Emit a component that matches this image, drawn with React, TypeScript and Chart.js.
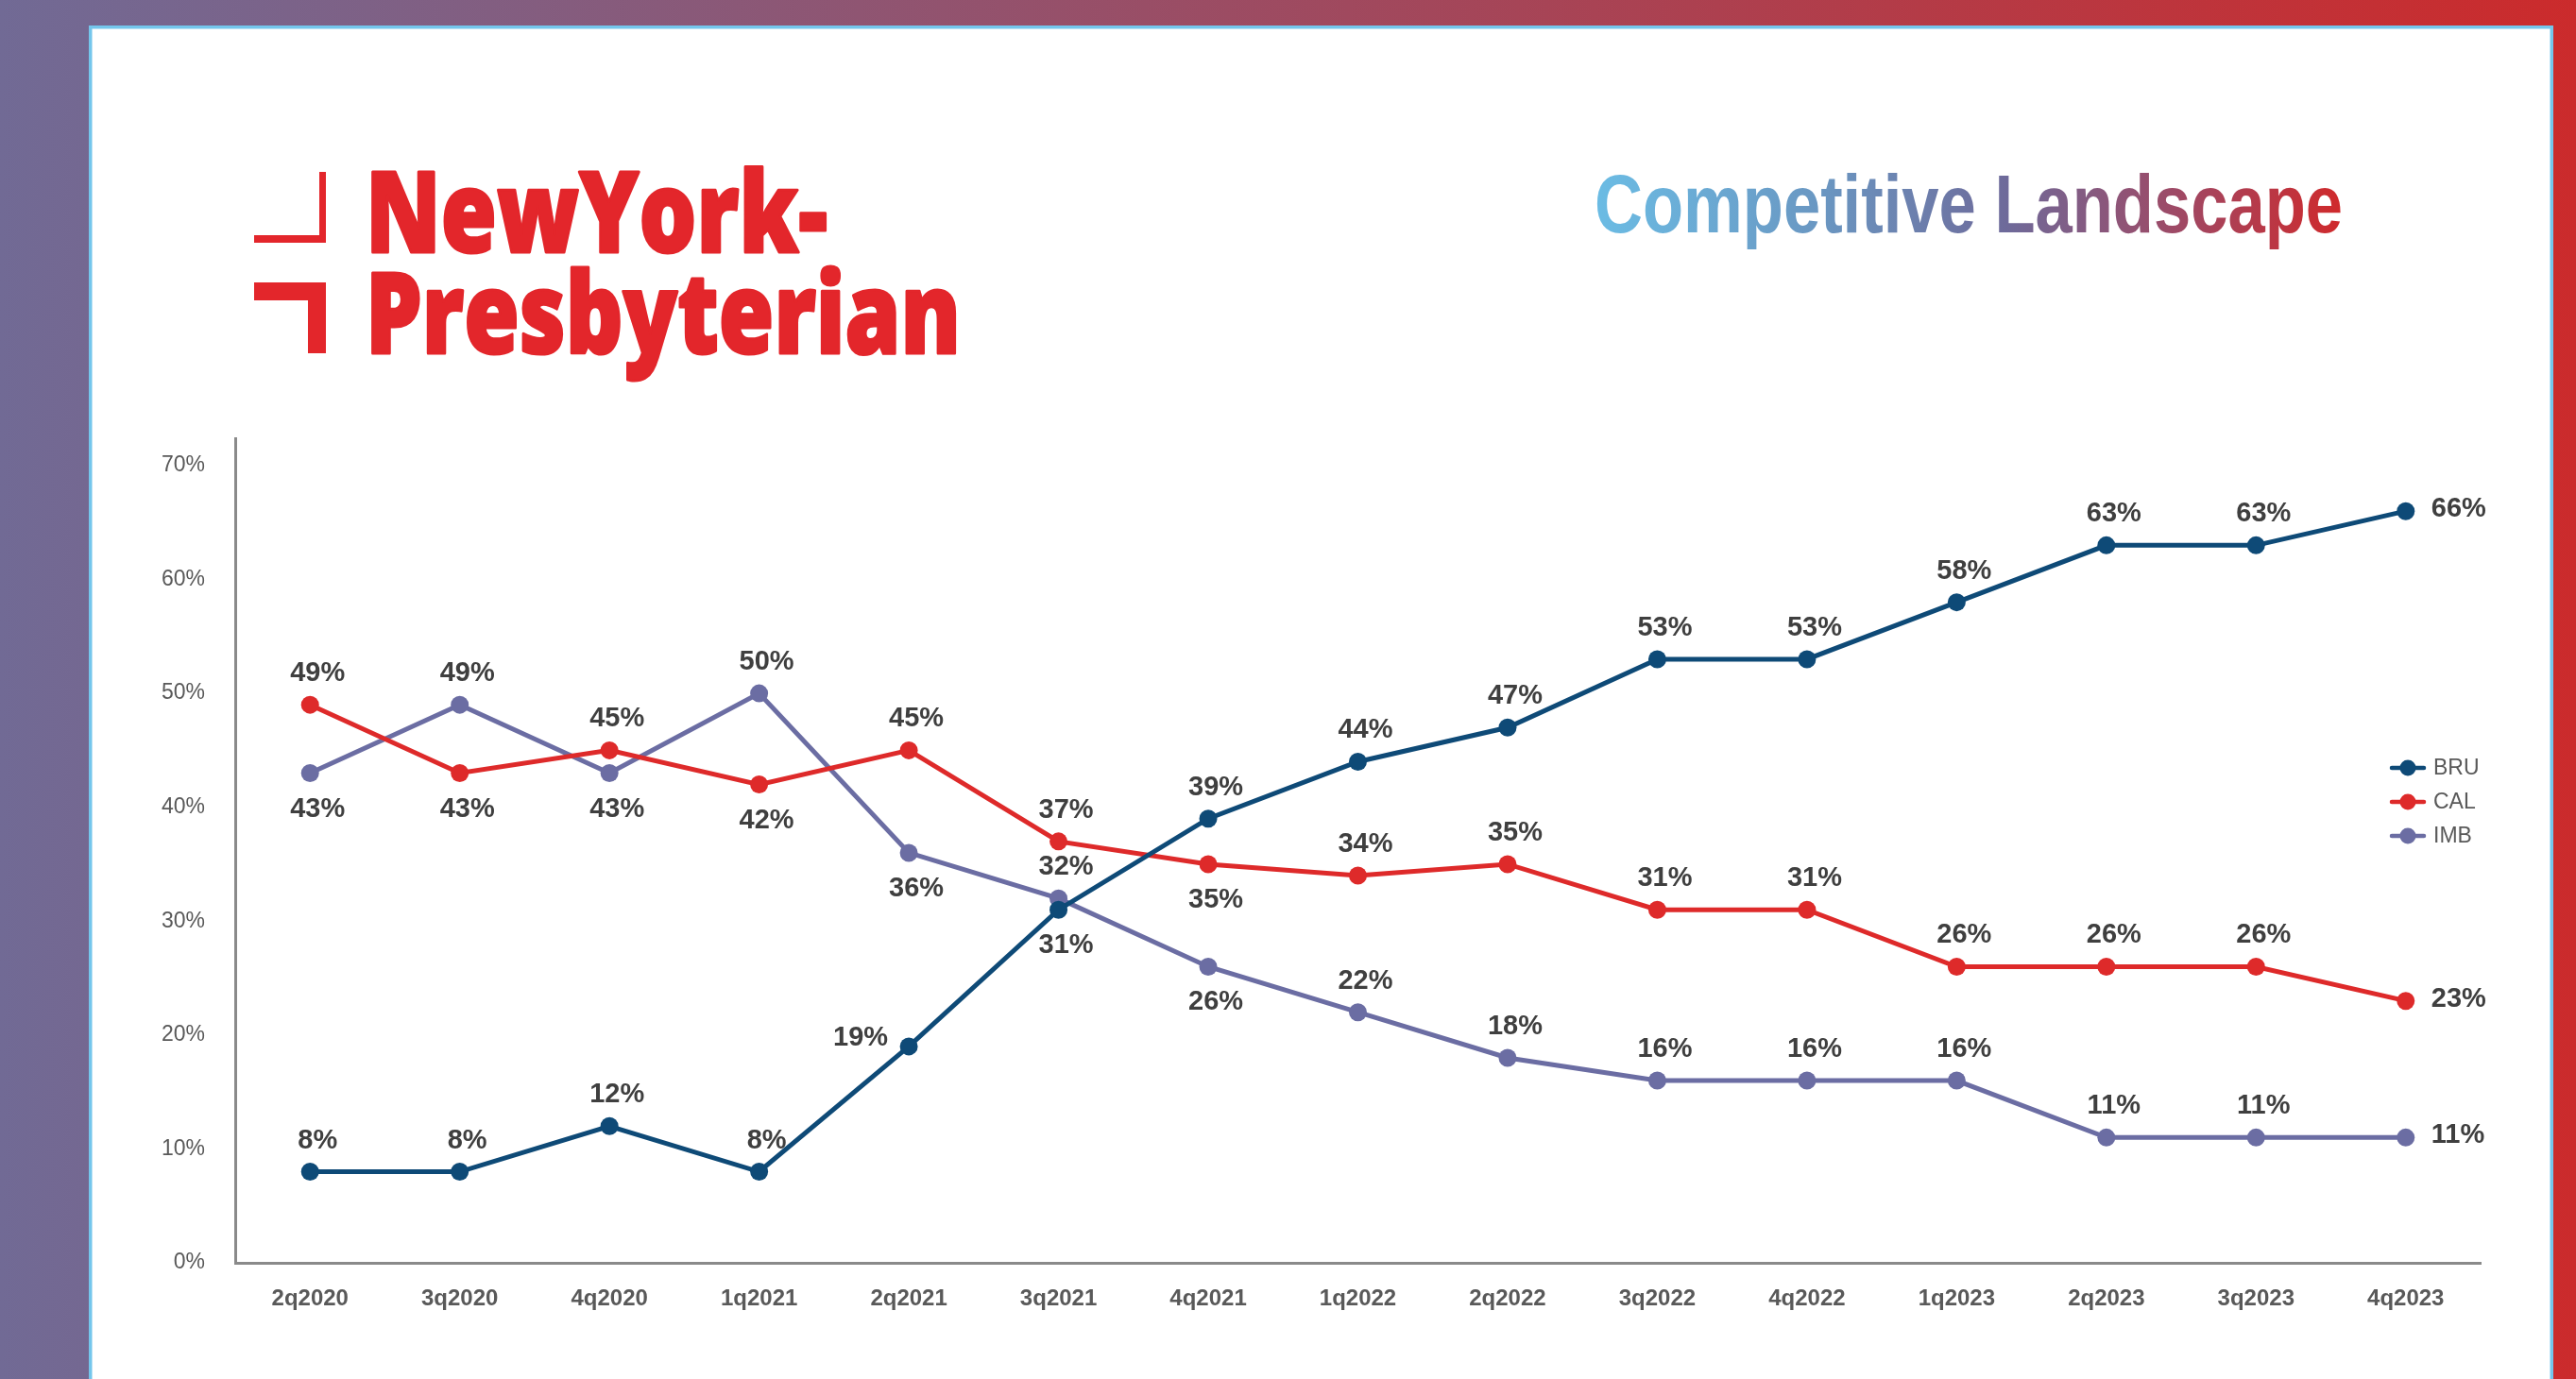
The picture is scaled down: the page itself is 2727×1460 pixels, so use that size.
import React, { useEffect, useRef } from 'react';
import { Chart, registerables } from 'chart.js';

Chart.register(...registerables);

// ---------------- data ----------------
const CATEGORIES = ['2q2020', '3q2020', '4q2020', '1q2021', '2q2021', '3q2021', '4q2021', '1q2022', '2q2022', '3q2022', '4q2022', '1q2023', '2q2023', '3q2023', '4q2023'];
const SERIES_NAMES = ['BRU', 'CAL', 'IMB'];
const BRU = [8, 8, 12, 8, 19, 31, 39, 44, 47, 53, 53, 58, 63, 63, 66];
const CAL = [49, 43, 45, 42, 45, 37, 35, 34, 35, 31, 31, 26, 26, 26, 23];
const IMB = [43, 49, 43, 50, 36, 32, 26, 22, 18, 16, 16, 16, 11, 11, 11];
const Y_TICKS = [0, 10, 20, 30, 40, 50, 60, 70];
const TITLE = 'Competitive Landscape';
const LOGO_LINES = ['NewYork-', 'Presbyterian'];

// label placement per point (t = above, b = below, l = left, r = right)
const BRU_LABEL_POS = ['t', 't', 't', 't', 'l', 'b', 't', 't', 't', 't', 't', 't', 't', 't', 'r'];
const CAL_LABEL_POS = ['t', 'b', 't', 'b', 't', 't', 'b', 't', 't', 't', 't', 't', 't', 't', 'r'];
const IMB_LABEL_POS = ['b', 't', 'b', 't', 'b', 't', 'b', 't', 't', 't', 't', 't', 't', 't', 'r'];

// ---------------- styles ----------------
const W = 2727;
const H = 1460;
const COLORS = ['#0E4A77', '#DE2A2A', '#6B6DA3'];
const LOGO_RED = '#E3262B';
const NARROW = "'Liberation Sans Narrow', 'Liberation Sans', Arial, sans-serif";
const SANS = "'Liberation Sans', Arial, sans-serif";
const TITLE_STOPS: [number, string][] = [
  [0, '#6BBCE4'],
  [0.3, '#6A97C2'],
  [0.55, '#6E6A9A'],
  [0.8, '#A34660'],
  [1, '#D0292B'],
];

function fitText(
  ctx: CanvasRenderingContext2D,
  text: string,
  x: number,
  y: number,
  width: number,
  stops?: [number, string][],
  strokeWidth?: number
) {
  const m = ctx.measureText(text).width;
  ctx.save();
  ctx.translate(x, y);
  ctx.scale(width / m, 1);
  if (stops) {
    const g = ctx.createLinearGradient(0, 0, m, 0);
    stops.forEach(([o, c]) => g.addColorStop(o, c));
    ctx.fillStyle = g;
  }
  ctx.fillText(text, 0, 0);
  if (strokeWidth) {
    ctx.strokeStyle = ctx.fillStyle as any;
    ctx.lineWidth = strokeWidth;
    ctx.lineJoin = 'round';
    ctx.strokeText(text, 0, 0);
  }
  ctx.restore();
}

const backgroundPlugin = {
  id: 'pageBackground',
  beforeDraw(chart: any) {
    const ctx: CanvasRenderingContext2D = chart.ctx;
    ctx.save();
    // outer gradient band
    const g = ctx.createLinearGradient(0, 0, W, 0);
    g.addColorStop(0, '#716A95');
    g.addColorStop(1, '#CB2B2C');
    ctx.fillStyle = g;
    ctx.fillRect(0, 0, W, H);
    // white panel with light-blue border
    ctx.fillStyle = '#FFFFFF';
    ctx.fillRect(94, 27, 2703 - 94, H);
    ctx.strokeStyle = '#74C6EC';
    ctx.lineWidth = 3.5;
    ctx.strokeRect(95.75, 28.75, 2701.25 - 95.75, H + 20);

    // logo marks
    ctx.fillStyle = LOGO_RED;
    ctx.fillRect(338, 182, 7, 75);
    ctx.fillRect(269, 249, 76, 8);
    ctx.fillRect(269, 299, 76, 19);
    ctx.fillRect(326, 299, 19, 75);

    // logo words
    ctx.font = "800 119px 'Open Sans', 'Noto Sans', sans-serif";
    ctx.textBaseline = 'alphabetic';
    ctx.textAlign = 'left';
    fitText(ctx, LOGO_LINES[0], 387, 267, 489, undefined, 3);
    fitText(ctx, LOGO_LINES[1], 387, 374, 630, undefined, 3);

    // title
    ctx.font = `bold 88px ${SANS}`;
    fitText(ctx, TITLE, 1688, 246, 792, TITLE_STOPS);
    ctx.restore();
  },
};

const labelPlugin = {
  id: 'pointLabels',
  afterDatasetsDraw(chart: any) {
    const ctx: CanvasRenderingContext2D = chart.ctx;
    const positions = [BRU_LABEL_POS, CAL_LABEL_POS, IMB_LABEL_POS];
    ctx.save();
    ctx.font = `bold 29px ${SANS}`;
    ctx.fillStyle = '#3F3F3F';
    ctx.textBaseline = 'middle';
    chart.data.datasets.forEach((ds: any, i: number) => {
      const meta = chart.getDatasetMeta(i);
      meta.data.forEach((pt: any, j: number) => {
        const text = `${ds.data[j]}%`;
        const pos = positions[i][j];
        if (pos === 't') {
          ctx.textAlign = 'center';
          ctx.fillText(text, pt.x + 8, pt.y - 33);
        } else if (pos === 'b') {
          ctx.textAlign = 'center';
          ctx.fillText(text, pt.x + 8, pt.y + 38);
        } else if (pos === 'l') {
          ctx.textAlign = 'right';
          ctx.fillText(text, pt.x - 22, pt.y - 9);
        } else {
          ctx.textAlign = 'left';
          ctx.fillText(text, pt.x + 27, pt.y - 2);
        }
      });
    });
    ctx.restore();
  },
};

const legendPlugin = {
  id: 'sideLegend',
  afterDraw(chart: any) {
    const ctx: CanvasRenderingContext2D = chart.ctx;
    ctx.save();
    ctx.font = `23px ${NARROW}`;
    ctx.textBaseline = 'middle';
    ctx.textAlign = 'left';
    chart.data.datasets.forEach((ds: any, i: number) => {
      const y = 813 + i * 36;
      ctx.strokeStyle = ds.borderColor;
      ctx.lineWidth = 4.5;
      ctx.lineCap = 'round';
      ctx.beginPath();
      ctx.moveTo(2532, y);
      ctx.lineTo(2566, y);
      ctx.stroke();
      ctx.fillStyle = ds.borderColor;
      ctx.beginPath();
      ctx.arc(2549, y, 8.5, 0, Math.PI * 2);
      ctx.fill();
      ctx.fillStyle = '#595959';
      ctx.fillText(ds.label, 2576, y + 1);
    });
    ctx.restore();
  },
};

export default function App() {
  const canvasRef = useRef<HTMLCanvasElement | null>(null);

  useEffect(() => {
    const canvas = canvasRef.current;
    if (!canvas) return;
    const seriesValues = [BRU, CAL, IMB];
    const chart = new Chart(canvas, {
      type: 'line',
      data: {
        labels: CATEGORIES,
        datasets: SERIES_NAMES.map((name, i) => ({
          label: name,
          data: seriesValues[i],
          borderColor: COLORS[i],
          backgroundColor: COLORS[i],
          pointBackgroundColor: COLORS[i],
          pointBorderWidth: 0,
          pointRadius: 9.5,
          borderWidth: 5,
          tension: 0,
          fill: false,
          clip: false as any,
        })),
      },
      options: {
        responsive: false,
        animation: false,
        devicePixelRatio: 1,
        events: [],
        layout: { padding: { top: 464, right: 101, bottom: 0, left: 0 } },
        plugins: {
          legend: { display: false },
          tooltip: { enabled: false },
        },
        scales: {
          x: {
            type: 'category',
            offset: true,
            grid: { display: false, drawTicks: false },
            border: { display: true, color: '#8A8A8A', width: 3 },
            ticks: {
              color: '#595959',
              font: { family: NARROW, size: 24, weight: 'bold' },
              padding: 24,
              maxRotation: 0,
              autoSkip: false,
            },
            afterFit: (scale: any) => {
              scale.height = H - 1337;
            },
          },
          y: {
            min: 0,
            max: 72.4,
            grid: { display: false, drawTicks: false },
            border: { display: true, color: '#8A8A8A', width: 3 },
            ticks: {
              color: '#595959',
              font: { family: NARROW, size: 23 },
              padding: 32,
              callback: (v: any) => `${v}%`,
            },
            afterBuildTicks: (scale: any) => {
              scale.ticks = Y_TICKS.map((v) => ({ value: v }));
            },
            afterFit: (scale: any) => {
              scale.width = 249;
            },
          },
        },
      } as any,
      plugins: [backgroundPlugin, labelPlugin, legendPlugin],
    });
    return () => chart.destroy();
  }, []);

  return (
    <div style={{ position: 'fixed', left: 0, top: 0, width: W, height: H, overflow: 'hidden' }}>
      <canvas ref={canvasRef} width={W} height={H} style={{ display: 'block', width: W, height: H }} />
    </div>
  );
}
